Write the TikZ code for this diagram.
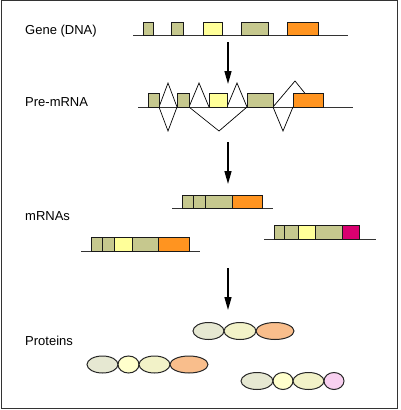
\documentclass[tikz,border=0pt]{standalone}
\usepackage{fontspec}
\setmainfont{Liberation Sans}
\usetikzlibrary{arrows.meta}
\definecolor{exkhaki}{HTML}{C6C88E}
\definecolor{exyellow}{HTML}{FFFF99}
\definecolor{exorange}{HTML}{FF9420}
\definecolor{exmagenta}{HTML}{D90070}
\definecolor{prgrey}{HTML}{E6E8D2}
\definecolor{prcream}{HTML}{FFFFCC}
\definecolor{prpale}{HTML}{F2F2C8}
\definecolor{prsalmon}{HTML}{F9BE8C}
\definecolor{prpink}{HTML}{F8D0F0}
\begin{document}
\begin{tikzpicture}[x=1pt,y=-1pt,
  exon/.style={draw=black!90,line width=0.9pt},
  strand/.style={draw=black!80,line width=0.9pt},
  splice/.style={draw=black,line width=0.7pt},
  protdom/.style={draw=black!85,line width=1pt},
  flow/.style={line width=1.4pt,-{Triangle[length=13pt,width=7pt]}},
  lbl/.style={anchor=west,inner sep=0pt,font=\fontsize{13}{15}\selectfont}]
\useasboundingbox (0,0) rectangle (400,410);
\draw[black!80,line width=1pt] (1.5,0.5) rectangle (397,408);
% labels
\node[lbl] (gene) at (25,31) {Gene (DNA)};
\node[lbl] (pre) at (25,102) {Pre-mRNA};
\node[lbl] (mrna) at (25,216) {mRNAs};
\node[lbl] (prot) at (25,341) {Proteins};
% gene
\draw[strand] (133,35) -- (348,35);
\foreach \a/\b/\c in {143/153/exkhaki,171/183/exkhaki,203/222/exyellow,241/268/exkhaki,287/318/exorange}
  \draw[exon,fill=\c] (\a,22) rectangle (\b,35);
% arrows
\coordinate (a1s) at (228,42); \coordinate (a1e) at (228,84);
\coordinate (a2s) at (228,142); \coordinate (a2e) at (228,184);
\coordinate (a3s) at (228,268); \coordinate (a3e) at (228,310);
\draw[flow] (a1s) -- (a1e);
\draw[flow] (a2s) -- (a2e);
\draw[flow] (a3s) -- (a3e);
% pre-mRNA
\draw[strand] (138,107) -- (353,107);
\draw[splice] (159,107) -- (168,83) -- (177,107) -- (168,131) -- cycle;
\draw[splice] (189,107) -- (199,83) -- (209,107);
\draw[splice] (227,107) -- (237,83) -- (247,107);
\draw[splice] (189,107) -- (219,131) -- (247,107);
\draw[splice] (273,107) -- (295,81) -- (316,107);
\draw[splice] (273,107) -- (283,131) -- (293,107);
\foreach \a/\b/\c in {148/159/exkhaki,177/189/exkhaki,209/227/exyellow,247/273/exkhaki,293/323/exorange}
  \draw[exon,fill=\c] (\a,93) rectangle (\b,107);
% mRNAs
\draw[strand] (172,208) -- (273,208);
\foreach \a/\b/\c in {182/193/exkhaki,193/205/exkhaki,205/232/exkhaki,232/262/exorange}
  \draw[exon,fill=\c] (\a,195) rectangle (\b,208);
\draw[strand] (81,251) -- (200,251);
\foreach \a/\b/\c in {91/102/exkhaki,102/114/exkhaki,114/132/exyellow,132/158/exkhaki,158/189/exorange}
  \draw[exon,fill=\c] (\a,237) rectangle (\b,251);
\draw[strand] (264,239) -- (376,239);
\foreach \a/\b/\c in {274/284/exkhaki,284/298/exkhaki,298/315/exyellow,315/342/exkhaki,342/359/exmagenta}
  \draw[exon,fill=\c] (\a,225) rectangle (\b,239);
% proteins
\foreach \x/\r/\c in {208.5/15.5/prgrey,240/16/prpale,275/19/prsalmon}
  \draw[protdom,fill=\c] (\x,331) ellipse [x radius=\r,y radius=8.5];
\foreach \x/\r/\c in {102.5/15.5/prgrey,128.5/10.5/prcream,154.5/15.5/prpale,189/19/prsalmon}
  \draw[protdom,fill=\c] (\x,364.5) ellipse [x radius=\r,y radius=8.5];
\foreach \x/\r/\c in {257/16/prgrey,283/10/prcream,308.5/15.5/prpale,334/10/prpink}
  \draw[protdom,fill=\c] (\x,381) ellipse [x radius=\r,y radius=8.5];
\end{tikzpicture}
\end{document}
